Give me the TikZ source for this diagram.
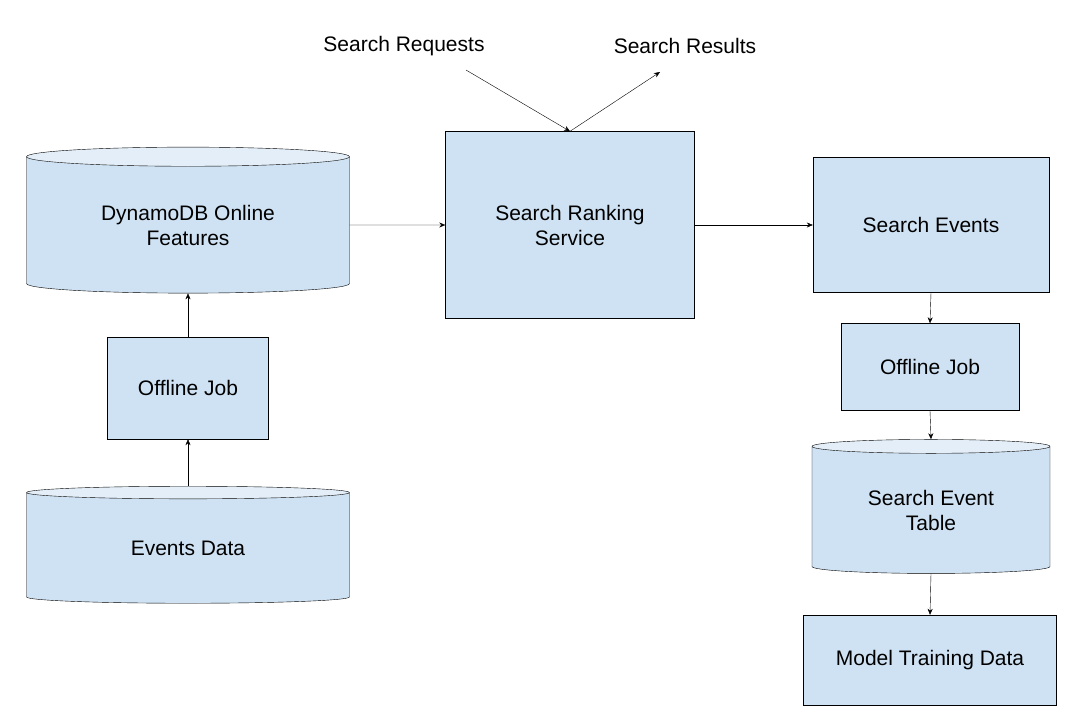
\documentclass[tikz,border=0pt]{standalone}
\usepackage{fontspec}
\setmainfont{Liberation Sans}
\usetikzlibrary{shapes.geometric, arrows.meta}
\definecolor{boxblue}{HTML}{CFE2F3}
\definecolor{topblue}{HTML}{E3EEF8}
\tikzset{
    box/.style={draw, fill=boxblue, align=center, inner sep=0pt},
    db/.style={draw, cylinder, shape border rotate=90, aspect=0.11, align=center,
        cylinder uses custom fill, cylinder body fill=boxblue, cylinder end fill=topblue, inner sep=0pt},
    flow/.style={-{Stealth[length=6pt, width=5pt]}}
}
\begin{document}
\begin{tikzpicture}[x=1pt, y=-1pt, font=\fontsize{21}{25}\selectfont]
    \useasboundingbox (0,0) rectangle (1080,718);
    \node (dynamo)   [db, minimum width=323, minimum height=146] at (188,225) {DynamoDB Online\\Features};
    \node (joba)     [box, minimum width=161, minimum height=102] at (188,388) {Offline Job};
    \node (events)   [db, minimum width=323, minimum height=117] at (188,548) {Events Data};
    \node (ranking)  [box, minimum width=249, minimum height=187] at (570,225) {Search Ranking\\Service};
    \node (searchev) [box, minimum width=236, minimum height=135] at (931,225) {Search Events};
    \node (jobb)     [box, minimum width=178, minimum height=87]  at (930,367) {Offline Job};
    \node (table)    [db, minimum width=238, minimum height=134] at (931,510) {Search Event\\Table};
    \node (training) [box, minimum width=253, minimum height=90]  at (930,660) {Model Training Data};

    \node (requests) at (404,46) {Search Requests};
    \node (results)  at (685,46) {Search Results};
    \coordinate (reqend) at (466,70);
    \coordinate (resend) at (660,72);

    \draw[flow] (reqend) -- (ranking.north);
    \draw[flow] (ranking.north) -- (resend);
    \draw[flow] (dynamo.east) -- (ranking.west);
    \draw[flow] (ranking.east) -- (searchev.west);
    \draw[flow] (events.top) -- (joba.south);
    \draw[flow] (joba.north) -- (dynamo.bottom);
    \draw[flow] (searchev.south) -- (jobb.north);
    \draw[flow] (jobb.south) -- (table.top);
    \draw[flow] (table.bottom) -- (training.north);
\end{tikzpicture}
\end{document}
